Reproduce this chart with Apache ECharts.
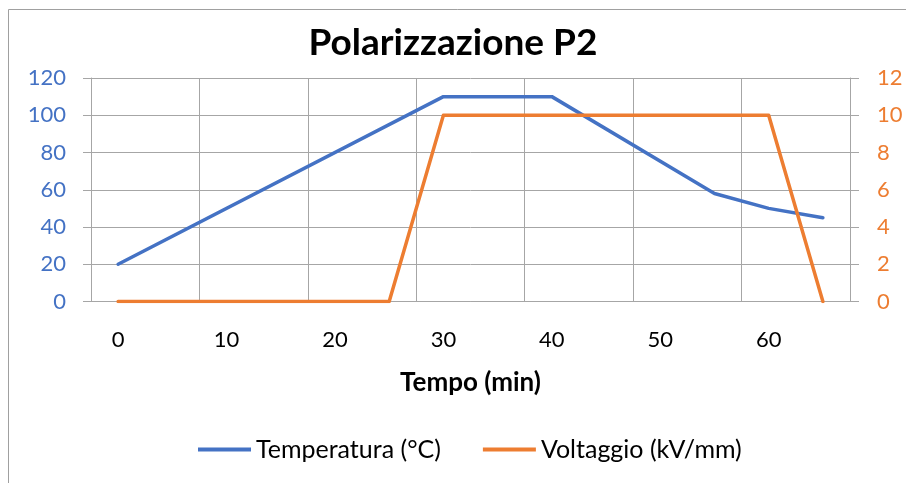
<!DOCTYPE html>
<html>
<head>
<meta charset="utf-8">
<script src="https://cdn.jsdelivr.net/npm/echarts@6/dist/echarts.min.js"></script>
<style>
  html, body { margin: 0; padding: 0; background: #fff; }
  #chart { width: 906px; height: 483px; }
</style>
</head>
<body>
<div id="chart"></div>
<script>
// Time in minutes (category axis, every 5 min)
const tempo = ['0', '5', '10', '15', '20', '25', '30', '35', '40', '45', '50', '55', '60', '65'];
// Temperature (°C); blanks are bridged by the line
const temperatura = [20, null, null, null, null, null, 110, null, 110, null, null, 58, 50, 45];
// Voltage (kV/mm)
const voltaggio = [0, null, null, null, null, 0, 10, null, null, null, null, null, 10, 0];

const leftTicks = [0, 20, 40, 60, 80, 100, 120];
const rightTicks = [0, 2, 4, 6, 8, 10, 12];

const FONT = 'Lato, "Open Sans", sans-serif';
const BLUE = '#4472C4';
const ORANGE = '#ED7D31';
const GRID = '#A6A6A6';

const chart = echarts.init(document.getElementById('chart'), null, { renderer: 'canvas' });

chart.setOption({
  backgroundColor: '#ffffff',
  animation: false,
  graphic: [{
    type: 'rect',
    shape: { x: 8.5, y: 9.5, width: 940, height: 520 },
    style: { fill: 'none', stroke: '#A0A0A0', lineWidth: 1 },
    silent: true,
    z: -1
  }],
  title: {
    text: 'Polarizzazione P2',
    left: 'center',
    top: 20,
    textStyle: { fontFamily: FONT, fontWeight: 'bold', fontSize: 37, color: '#000' }
  },
  legend: {
    bottom: 16,
    left: 193,
    icon: 'rect',
    itemWidth: 53,
    itemHeight: 4,
    itemGap: 42,
    textStyle: { fontFamily: FONT, fontSize: 25, color: '#000' },
    data: ['Temperatura (°C)', 'Voltaggio (kV/mm)']
  },
  grid: { left: 91, right: 56, top: 78, bottom: 181.5, containLabel: false },
  xAxis: {
    type: 'category',
    data: tempo,
    boundaryGap: true,
    name: 'Tempo (min)',
    nameLocation: 'middle',
    nameGap: 68,
    nameTextStyle: { fontFamily: FONT, fontWeight: 'bold', fontSize: 26, color: '#000' },
    axisLine: { show: true, lineStyle: { color: GRID, width: 1 } },
    axisTick: { show: false },
    axisLabel: { interval: 1, margin: 27, fontFamily: FONT, fontSize: 22, color: '#000' },
    splitLine: { show: true, interval: 1, lineStyle: { color: GRID, width: 1 } }
  },
  yAxis: [{
    type: 'value',
    min: leftTicks[0],
    max: leftTicks[leftTicks.length - 1],
    interval: 20,
    axisLine: { show: true, lineStyle: { color: GRID, width: 1 } },
    axisTick: { show: true, length: 8, lineStyle: { color: GRID, width: 1 } },
    axisLabel: { margin: 25, fontFamily: FONT, fontSize: 22, color: BLUE },
    splitLine: { show: true, lineStyle: { color: GRID, width: 1 } }
  }, {
    type: 'value',
    min: rightTicks[0],
    max: rightTicks[rightTicks.length - 1],
    interval: 2,
    position: 'right',
    axisLine: { show: true, lineStyle: { color: GRID, width: 1 } },
    axisTick: { show: true, length: 9, lineStyle: { color: GRID, width: 1 } },
    axisLabel: { margin: 27, fontFamily: FONT, fontSize: 22, color: ORANGE },
    splitLine: { show: false }
  }],
  series: [{
    name: 'Temperatura (°C)',
    type: 'line',
    yAxisIndex: 0,
    data: temperatura,
    connectNulls: true,
    symbol: 'none',
    color: BLUE,
    lineStyle: { color: BLUE, width: 3.5, cap: 'round', join: 'round' },
    z: 3
  }, {
    name: 'Voltaggio (kV/mm)',
    type: 'line',
    yAxisIndex: 1,
    data: voltaggio,
    connectNulls: true,
    symbol: 'none',
    color: ORANGE,
    lineStyle: { color: ORANGE, width: 3.5, cap: 'round', join: 'round' },
    z: 4
  }]
});
</script>
</body>
</html>
